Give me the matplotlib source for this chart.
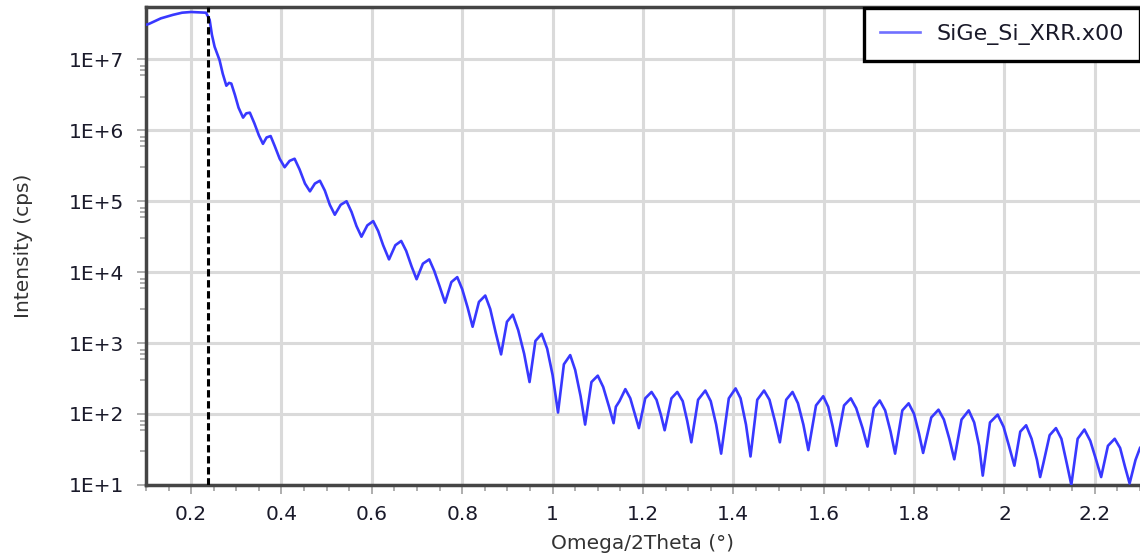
import matplotlib
matplotlib.use("Agg")
import matplotlib.pyplot as plt
from matplotlib.ticker import FixedLocator, FuncFormatter, NullFormatter
import numpy as np

# XRR scan: angle (deg) and log10 intensity (cps)
omega = [
    0.100, 0.106, 0.133, 0.160, 0.180, 0.200, 0.233, 0.241,
    0.246, 0.252, 0.263, 0.270, 0.278, 0.284, 0.289, 0.297, 0.305, 0.315,
    0.322, 0.330, 0.340, 0.350, 0.359, 0.367, 0.376, 0.385, 0.396, 0.407,
    0.418, 0.429, 0.440, 0.452, 0.463, 0.474, 0.485, 0.496, 0.507, 0.518,
    0.531, 0.544, 0.555, 0.566, 0.577, 0.590, 0.603, 0.614, 0.625, 0.638,
    0.652, 0.665, 0.676, 0.688, 0.699, 0.713, 0.727, 0.738, 0.750, 0.762,
    0.776, 0.789, 0.800, 0.812, 0.823, 0.837, 0.851, 0.862, 0.874, 0.886,
    0.899, 0.912, 0.924, 0.937, 0.949, 0.962, 0.976, 0.988, 1.000, 1.012,
    1.025, 1.039, 1.050, 1.062, 1.072, 1.086, 1.100, 1.112, 1.125, 1.135,
    1.140, 1.148, 1.161, 1.172, 1.182, 1.191, 1.205, 1.219, 1.230, 1.240,
    1.248, 1.263, 1.276, 1.288, 1.298, 1.307, 1.322, 1.338, 1.350, 1.362,
    1.373, 1.390, 1.405, 1.416, 1.428, 1.438, 1.453, 1.468, 1.480, 1.492,
    1.503, 1.517, 1.531, 1.543, 1.555, 1.566, 1.583, 1.599, 1.610, 1.620,
    1.628, 1.645, 1.660, 1.672, 1.686, 1.697, 1.711, 1.724, 1.736, 1.748,
    1.758, 1.774, 1.788, 1.800, 1.811, 1.820, 1.838, 1.854, 1.866, 1.878,
    1.889, 1.905, 1.921, 1.933, 1.944, 1.952, 1.968, 1.985, 1.998, 2.010,
    2.022, 2.035, 2.048, 2.060, 2.072, 2.079, 2.086, 2.100, 2.114, 2.126,
    2.138, 2.148, 2.162, 2.177, 2.190, 2.203, 2.214, 2.229, 2.244, 2.256,
    2.267, 2.277, 2.290, 2.300,
]
log_int = [
    7.49, 7.50, 7.58, 7.63, 7.66, 7.67, 7.66, 7.56,
    7.35, 7.18, 6.99, 6.80, 6.63, 6.67, 6.66, 6.50, 6.32, 6.18,
    6.24, 6.25, 6.10, 5.93, 5.81, 5.90, 5.92, 5.78, 5.60, 5.48,
    5.57, 5.60, 5.45, 5.25, 5.14, 5.25, 5.29, 5.15, 4.95, 4.81,
    4.95, 5.00, 4.85, 4.65, 4.50, 4.66, 4.72, 4.58, 4.38, 4.18,
    4.38, 4.44, 4.30, 4.08, 3.90, 4.12, 4.18, 4.02, 3.80, 3.57,
    3.86, 3.93, 3.76, 3.50, 3.23, 3.58, 3.67, 3.48, 3.15, 2.84,
    3.30, 3.40, 3.18, 2.85, 2.45, 3.03, 3.13, 2.92, 2.55, 2.02,
    2.70, 2.83, 2.62, 2.25, 1.85, 2.45, 2.54, 2.38, 2.10, 1.87,
    2.10, 2.18, 2.35, 2.22, 2.00, 1.80, 2.22, 2.31, 2.20, 1.98,
    1.77, 2.22, 2.31, 2.18, 1.90, 1.60, 2.20, 2.33, 2.18, 1.85,
    1.44, 2.22, 2.36, 2.22, 1.85, 1.40, 2.20, 2.33, 2.20, 1.90,
    1.60, 2.20, 2.31, 2.15, 1.85, 1.49, 2.12, 2.25, 2.10, 1.82,
    1.55, 2.12, 2.22, 2.08, 1.80, 1.54, 2.08, 2.19, 2.05, 1.75,
    1.44, 2.05, 2.15, 2.00, 1.72, 1.45, 1.95, 2.06, 1.92, 1.65,
    1.36, 1.92, 2.05, 1.88, 1.55, 1.13, 1.88, 1.99, 1.82, 1.55,
    1.27, 1.75, 1.84, 1.65, 1.35, 1.11, 1.30, 1.70, 1.80, 1.65,
    1.30, 1.00, 1.65, 1.78, 1.62, 1.35, 1.11, 1.55, 1.65, 1.52,
    1.25, 1.02, 1.35, 1.52,
]
critical_angle = 0.237
series_name = "SiGe_Si_XRR.x00"

x_major = [0.2, 0.4, 0.6, 0.8, 1.0, 1.2, 1.4, 1.6, 1.8, 2.0, 2.2]
x_minor = [0.1, 0.15, 0.25, 0.3, 0.35, 0.45, 0.5, 0.55, 0.65, 0.7, 0.75,
           0.85, 0.9, 0.95, 1.05, 1.1, 1.15, 1.25, 1.3, 1.35, 1.45, 1.5,
           1.55, 1.65, 1.7, 1.75, 1.85, 1.9, 1.95, 2.05, 2.1, 2.15, 2.25, 2.3]
y_decades = [1, 2, 3, 4, 5, 6, 7]
y_subs = [3, 6, 7, 8]

intensity = np.power(10.0, log_int)

fig = plt.figure(figsize=(11.4, 5.56), dpi=100)
ax = fig.add_axes([0.128, 0.128, 0.872, 0.860])

ax.plot(omega, intensity, color="#3838ff", lw=1.9, label=series_name, zorder=3)
ax.axvline(critical_angle, color="black", lw=2.2, ls=(0, (2.4, 1.2)), zorder=4)

ax.set_yscale("log")
ax.set_xlim(0.1, 2.3)
ax.set_ylim(10, 10 ** 7.745)

ax.xaxis.set_major_locator(FixedLocator(x_major))
ax.xaxis.set_minor_locator(FixedLocator(x_minor))
ax.xaxis.set_major_formatter(FuncFormatter(lambda v, p: f"{v:g}"))
ax.yaxis.set_major_locator(FixedLocator([10.0 ** d for d in y_decades]))
ax.yaxis.set_minor_locator(FixedLocator([s * 10.0 ** d for d in y_decades[:-1] for s in y_subs]))
ax.yaxis.set_major_formatter(FuncFormatter(lambda v, p: f"1E+{int(round(np.log10(v)))}"))
ax.yaxis.set_minor_formatter(NullFormatter())

ax.grid(True, which="major", color="#dadada", lw=2.2)
ax.set_axisbelow(True)

for side in ("left", "bottom", "top"):
    ax.spines[side].set_color("#454545")
    ax.spines[side].set_linewidth(2.5)
ax.spines["right"].set_visible(False)

ax.tick_params(which="major", length=6.5, width=1.3, color="#a8a8a8",
               labelsize=14.5, labelcolor="#1a1a2a", pad=9)
ax.tick_params(which="minor", length=4, width=1.3, color="#a8a8a8")
ax.tick_params(axis="x", which="major", pad=8)

ax.set_xlabel("Omega/2Theta (°)", fontsize=14.5, color="#333333", labelpad=7)
ax.set_ylabel("Intensity (cps)", fontsize=14.5, color="#333333", labelpad=26)

leg = ax.legend(loc="upper right", bbox_to_anchor=(1.0, 0.997), borderaxespad=0,
                fancybox=False, fontsize=16, handlelength=1.8,
                handletextpad=0.75, borderpad=0.72, framealpha=1)
leg.get_frame().set_edgecolor("black")
leg.get_frame().set_linewidth(2.4)
leg.get_lines()[0].set_color("#7070ff")
leg.get_texts()[0].set_color("#1a1a2a")

fig.savefig("out.png", dpi=100)
